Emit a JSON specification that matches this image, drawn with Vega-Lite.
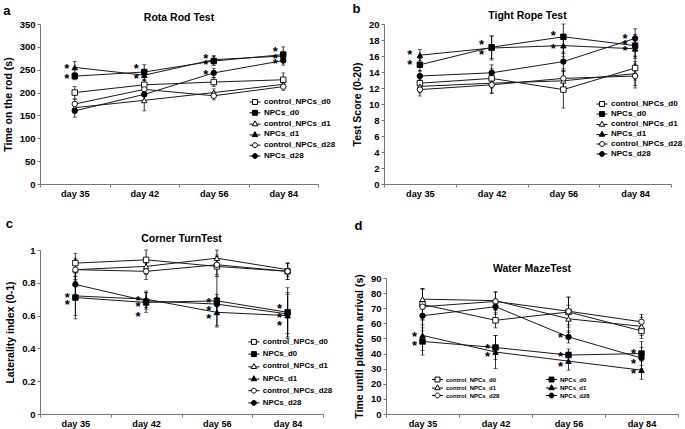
{
"$schema": "https://vega.github.io/schema/vega-lite/v6.json",
"padding": {"left": 3, "top": 2, "right": 2, "bottom": 2},
"datasets": {
"pts": [
{"p":"a","d":"day 35","s":"control_NPCs_d0","v":200,"lo":187,"hi":213},
{"p":"a","d":"day 35","s":"NPCs_d0","v":236,"lo":228,"hi":244},
{"p":"a","d":"day 35","s":"control_NPCs_d1","v":167,"lo":159,"hi":175},
{"p":"a","d":"day 35","s":"NPCs_d1","v":255,"lo":242,"hi":268},
{"p":"a","d":"day 35","s":"control_NPCs_d28","v":175,"lo":165,"hi":185},
{"p":"a","d":"day 35","s":"NPCs_d28","v":160,"lo":146,"hi":174},
{"p":"a","d":"day 42","s":"control_NPCs_d0","v":217,"lo":207,"hi":227},
{"p":"a","d":"day 42","s":"NPCs_d0","v":245,"lo":229,"hi":261},
{"p":"a","d":"day 42","s":"control_NPCs_d1","v":183,"lo":160,"hi":206},
{"p":"a","d":"day 42","s":"NPCs_d1","v":238,"lo":226,"hi":250},
{"p":"a","d":"day 42","s":"control_NPCs_d28","v":207,"lo":197,"hi":217},
{"p":"a","d":"day 42","s":"NPCs_d28","v":196,"lo":184,"hi":208},
{"p":"a","d":"day 56","s":"control_NPCs_d0","v":223,"lo":213,"hi":233},
{"p":"a","d":"day 56","s":"NPCs_d0","v":269,"lo":259,"hi":279},
{"p":"a","d":"day 56","s":"control_NPCs_d1","v":200,"lo":192,"hi":208},
{"p":"a","d":"day 56","s":"NPCs_d1","v":272,"lo":263,"hi":281},
{"p":"a","d":"day 56","s":"control_NPCs_d28","v":193,"lo":184,"hi":202},
{"p":"a","d":"day 56","s":"NPCs_d28","v":243,"lo":233,"hi":253},
{"p":"a","d":"day 84","s":"control_NPCs_d0","v":228,"lo":213,"hi":243},
{"p":"a","d":"day 84","s":"NPCs_d0","v":283,"lo":266,"hi":300},
{"p":"a","d":"day 84","s":"control_NPCs_d1","v":218,"lo":210,"hi":226},
{"p":"a","d":"day 84","s":"NPCs_d1","v":280,"lo":270,"hi":290},
{"p":"a","d":"day 84","s":"control_NPCs_d28","v":213,"lo":205,"hi":221},
{"p":"a","d":"day 84","s":"NPCs_d28","v":270,"lo":260,"hi":280},
{"p":"b","d":"day 35","s":"control_NPCs_d0","v":12.6,"lo":11.8,"hi":13.4},
{"p":"b","d":"day 35","s":"NPCs_d0","v":14.9,"lo":14.1,"hi":15.7},
{"p":"b","d":"day 35","s":"control_NPCs_d1","v":12.2,"lo":11.4,"hi":13.0},
{"p":"b","d":"day 35","s":"NPCs_d1","v":16.1,"lo":15.4,"hi":16.8},
{"p":"b","d":"day 35","s":"control_NPCs_d28","v":11.8,"lo":11.0,"hi":12.6},
{"p":"b","d":"day 35","s":"NPCs_d28","v":13.5,"lo":12.8,"hi":14.2},
{"p":"b","d":"day 42","s":"control_NPCs_d0","v":13.2,"lo":12.0,"hi":14.4},
{"p":"b","d":"day 42","s":"NPCs_d0","v":17.1,"lo":15.7,"hi":18.5},
{"p":"b","d":"day 42","s":"control_NPCs_d1","v":12.6,"lo":11.4,"hi":13.8},
{"p":"b","d":"day 42","s":"NPCs_d1","v":17.0,"lo":15.5,"hi":18.5},
{"p":"b","d":"day 42","s":"control_NPCs_d28","v":12.4,"lo":11.3,"hi":13.5},
{"p":"b","d":"day 42","s":"NPCs_d28","v":13.9,"lo":12.9,"hi":14.9},
{"p":"b","d":"day 56","s":"control_NPCs_d0","v":11.8,"lo":9.5,"hi":14.1},
{"p":"b","d":"day 56","s":"NPCs_d0","v":18.4,"lo":15.9,"hi":20},
{"p":"b","d":"day 56","s":"control_NPCs_d1","v":12.9,"lo":11.6,"hi":14.2},
{"p":"b","d":"day 56","s":"NPCs_d1","v":17.3,"lo":16.3,"hi":18.3},
{"p":"b","d":"day 56","s":"control_NPCs_d28","v":13.2,"lo":12.0,"hi":14.4},
{"p":"b","d":"day 56","s":"NPCs_d28","v":15.3,"lo":14.1,"hi":16.5},
{"p":"b","d":"day 84","s":"control_NPCs_d0","v":14.5,"lo":13.0,"hi":16.0},
{"p":"b","d":"day 84","s":"NPCs_d0","v":17.3,"lo":15.9,"hi":18.7},
{"p":"b","d":"day 84","s":"control_NPCs_d1","v":13.8,"lo":12.3,"hi":15.3},
{"p":"b","d":"day 84","s":"NPCs_d1","v":16.9,"lo":15.7,"hi":18.1},
{"p":"b","d":"day 84","s":"control_NPCs_d28","v":13.5,"lo":12.0,"hi":15.0},
{"p":"b","d":"day 84","s":"NPCs_d28","v":18.2,"lo":17.0,"hi":19.4},
{"p":"c","d":"day 35","s":"control_NPCs_d0","v":0.92,"lo":0.86,"hi":0.98},
{"p":"c","d":"day 35","s":"NPCs_d0","v":0.71,"lo":0.58,"hi":0.84},
{"p":"c","d":"day 35","s":"control_NPCs_d1","v":0.88,"lo":0.81,"hi":0.95},
{"p":"c","d":"day 35","s":"NPCs_d1","v":0.72,"lo":0.60,"hi":0.84},
{"p":"c","d":"day 35","s":"control_NPCs_d28","v":0.88,"lo":0.82,"hi":0.94},
{"p":"c","d":"day 35","s":"NPCs_d28","v":0.79,"lo":0.72,"hi":0.86},
{"p":"c","d":"day 42","s":"control_NPCs_d0","v":0.94,"lo":0.88,"hi":1.0},
{"p":"c","d":"day 42","s":"NPCs_d0","v":0.68,"lo":0.62,"hi":0.74},
{"p":"c","d":"day 42","s":"control_NPCs_d1","v":0.90,"lo":0.85,"hi":0.95},
{"p":"c","d":"day 42","s":"NPCs_d1","v":0.70,"lo":0.65,"hi":0.75},
{"p":"c","d":"day 42","s":"control_NPCs_d28","v":0.87,"lo":0.82,"hi":0.92},
{"p":"c","d":"day 42","s":"NPCs_d28","v":0.69,"lo":0.64,"hi":0.74},
{"p":"c","d":"day 56","s":"control_NPCs_d0","v":0.90,"lo":0.84,"hi":0.96},
{"p":"c","d":"day 56","s":"NPCs_d0","v":0.69,"lo":0.54,"hi":0.84},
{"p":"c","d":"day 56","s":"control_NPCs_d1","v":0.95,"lo":0.90,"hi":1.0},
{"p":"c","d":"day 56","s":"NPCs_d1","v":0.62,"lo":0.53,"hi":0.71},
{"p":"c","d":"day 56","s":"control_NPCs_d28","v":0.91,"lo":0.85,"hi":0.97},
{"p":"c","d":"day 56","s":"NPCs_d28","v":0.67,"lo":0.61,"hi":0.73},
{"p":"c","d":"day 84","s":"control_NPCs_d0","v":0.87,"lo":0.82,"hi":0.92},
{"p":"c","d":"day 84","s":"NPCs_d0","v":0.62,"lo":0.47,"hi":0.77},
{"p":"c","d":"day 84","s":"control_NPCs_d1","v":0.88,"lo":0.84,"hi":0.92},
{"p":"c","d":"day 84","s":"NPCs_d1","v":0.60,"lo":0.46,"hi":0.74},
{"p":"c","d":"day 84","s":"control_NPCs_d28","v":0.87,"lo":0.82,"hi":0.92},
{"p":"c","d":"day 84","s":"NPCs_d28","v":0.61,"lo":0.49,"hi":0.73},
{"p":"d","d":"day 35","s":"control_NPCs_d0","v":72.5,"lo":62.5,"hi":82.5},
{"p":"d","d":"day 35","s":"NPCs_d0","v":48,"lo":39,"hi":57},
{"p":"d","d":"day 35","s":"control_NPCs_d1","v":76,"lo":69,"hi":83},
{"p":"d","d":"day 35","s":"NPCs_d1","v":52,"lo":42,"hi":62},
{"p":"d","d":"day 35","s":"control_NPCs_d28","v":71,"lo":59,"hi":83},
{"p":"d","d":"day 35","s":"NPCs_d28","v":65,"lo":55,"hi":75},
{"p":"d","d":"day 42","s":"control_NPCs_d0","v":62,"lo":57,"hi":67},
{"p":"d","d":"day 42","s":"NPCs_d0","v":44,"lo":36,"hi":52},
{"p":"d","d":"day 42","s":"control_NPCs_d1","v":75,"lo":69,"hi":81},
{"p":"d","d":"day 42","s":"NPCs_d1","v":41,"lo":30,"hi":52},
{"p":"d","d":"day 42","s":"control_NPCs_d28","v":74.5,"lo":68.5,"hi":80.5},
{"p":"d","d":"day 42","s":"NPCs_d28","v":71,"lo":66,"hi":76},
{"p":"d","d":"day 56","s":"control_NPCs_d0","v":67.5,"lo":57.5,"hi":77.5},
{"p":"d","d":"day 56","s":"NPCs_d0","v":39,"lo":35,"hi":43},
{"p":"d","d":"day 56","s":"control_NPCs_d1","v":63,"lo":54,"hi":72},
{"p":"d","d":"day 56","s":"NPCs_d1","v":35,"lo":29,"hi":41},
{"p":"d","d":"day 56","s":"control_NPCs_d28","v":68,"lo":59,"hi":77},
{"p":"d","d":"day 56","s":"NPCs_d28","v":51,"lo":47,"hi":55},
{"p":"d","d":"day 84","s":"control_NPCs_d0","v":55,"lo":50,"hi":60},
{"p":"d","d":"day 84","s":"NPCs_d0","v":40,"lo":32,"hi":48},
{"p":"d","d":"day 84","s":"control_NPCs_d1","v":58,"lo":52,"hi":64},
{"p":"d","d":"day 84","s":"NPCs_d1","v":29,"lo":23,"hi":35},
{"p":"d","d":"day 84","s":"control_NPCs_d28","v":61,"lo":56,"hi":66},
{"p":"d","d":"day 84","s":"NPCs_d28","v":37,"lo":30,"hi":44}
],
"stars": [
{"p":"a","d":"day 35","y":258},{"p":"a","d":"day 35","y":236},
{"p":"a","d":"day 42","y":258},{"p":"a","d":"day 42","y":236},
{"p":"a","d":"day 56","y":280},{"p":"a","d":"day 56","y":267},{"p":"a","d":"day 56","y":245},
{"p":"a","d":"day 84","y":296},{"p":"a","d":"day 84","y":281},{"p":"a","d":"day 84","y":268},
{"p":"b","d":"day 35","y":16.5},{"p":"b","d":"day 35","y":15.2},
{"p":"b","d":"day 42","y":17.7},{"p":"b","d":"day 42","y":16.5},
{"p":"b","d":"day 56","y":18.9},{"p":"b","d":"day 56","y":17.2},
{"p":"b","d":"day 84","y":18.5},{"p":"b","d":"day 84","y":17.7},{"p":"b","d":"day 84","y":17.0},
{"p":"c","d":"day 35","y":0.724},{"p":"c","d":"day 35","y":0.684},
{"p":"c","d":"day 42","y":0.708},{"p":"c","d":"day 42","y":0.669},{"p":"c","d":"day 42","y":0.612},
{"p":"c","d":"day 56","y":0.694},{"p":"c","d":"day 56","y":0.649},{"p":"c","d":"day 56","y":0.598},
{"p":"c","d":"day 84","y":0.657},{"p":"c","d":"day 84","y":0.606},{"p":"c","d":"day 84","y":0.555},
{"p":"d","d":"day 35","y":53},{"p":"d","d":"day 35","y":47},
{"p":"d","d":"day 42","y":45.3},{"p":"d","d":"day 42","y":39.8},
{"p":"d","d":"day 56","y":52},{"p":"d","d":"day 56","y":39.8},{"p":"d","d":"day 56","y":33.2},
{"p":"d","d":"day 84","y":41.6},{"p":"d","d":"day 84","y":35},{"p":"d","d":"day 84","y":28.3}
]
},
"spacing": 18,
"resolve": {"scale": {"shape": "independent", "fill": "independent"}, "legend": {"shape": "independent", "fill": "independent"}},
"vconcat": [
{"spacing": 16,
 "resolve": {"scale": {"shape": "independent", "fill": "independent"}, "legend": {"shape": "independent", "fill": "independent"}},
 "hconcat": [
{"title": {"text": "a", "anchor": "start", "fontSize": 13, "offset": -5},
 "resolve": {"scale": {"shape": "independent", "fill": "independent"}, "legend": {"shape": "independent", "fill": "independent"}},
 "vconcat": [{
  "width": 278, "height": 160,
  "title": {"text": "Rota Rod Test", "frame": "group", "offset": -4},
  "encoding": {"x": {"field":"d","type":"nominal","sort":["day 35","day 42","day 56","day 84"],"scale":{"type":"band","paddingInner":0,"paddingOuter":0},"title":null,"axis":{"labelAngle":0,"tickBand":"extent","labelPadding":2}}},
  "resolve": {"scale": {"shape": "independent", "fill": "independent"}, "legend": {"shape": "independent", "fill": "independent"}},
  "layer": [
   {"data": {"name": "pts"}, "transform": [{"filter": "datum.p === 'a'"}],
    "resolve": {"scale": {"shape": "independent", "fill": "independent"}, "legend": {"shape": "independent", "fill": "independent"}},
    "layer": [
     {"mark": {"type": "rule", "color": "black", "strokeWidth": 0.8},
      "encoding": {"y": {"field":"lo","type":"quantitative","title":"Time on the rod (s)","scale":{"domain":[0,350]},"axis":{"values":[0,50,100,150,200,250,300,350],"titlePadding":6}}, "y2": {"field":"hi"}}},
     {"mark": {"type": "tick", "color": "black", "thickness": 0.8, "size": 4},
      "encoding": {"y": {"field":"lo","type":"quantitative","title":"Time on the rod (s)","scale":{"domain":[0,350]},"axis":{"values":[0,50,100,150,200,250,300,350],"titlePadding":6}}}},
     {"mark": {"type": "tick", "color": "black", "thickness": 0.8, "size": 4},
      "encoding": {"y": {"field":"hi","type":"quantitative","title":"Time on the rod (s)","scale":{"domain":[0,350]},"axis":{"values":[0,50,100,150,200,250,300,350],"titlePadding":6}}}},
     {"mark": {"type": "line", "color": "#1a1a1a", "strokeWidth": 1},
      "encoding": {"y": {"field":"v","type":"quantitative","title":"Time on the rod (s)","scale":{"domain":[0,350]},"axis":{"values":[0,50,100,150,200,250,300,350],"titlePadding":6}},
       "detail": {"field":"s"}}},
     {"mark": {"type": "point", "filled": true, "stroke": "black", "strokeWidth": 0.9, "size": 30, "opacity": 1},
      "encoding": {"y": {"field":"v","type":"quantitative","title":"Time on the rod (s)","scale":{"domain":[0,350]},"axis":{"values":[0,50,100,150,200,250,300,350],"titlePadding":6}},
       "shape": {"field":"s","type":"nominal","scale":{"domain":["control_NPCs_d0","NPCs_d0","control_NPCs_d1","NPCs_d1","control_NPCs_d28","NPCs_d28"],"range":["square","square","triangle-up","triangle-up","circle","circle"]},"legend":null},
       "fill": {"field":"s","type":"nominal","scale":{"domain":["control_NPCs_d0","NPCs_d0","control_NPCs_d1","NPCs_d1","control_NPCs_d28","NPCs_d28"],"range":["white","black","white","black","white","black"]},"legend":null}}},
     {"mark": {"type": "point", "filled": true, "stroke": "black", "strokeWidth": 1, "size": 30, "opacity": 0},
      "encoding": {"y": {"field":"v","type":"quantitative","title":"Time on the rod (s)","scale":{"domain":[0,350]},"axis":{"values":[0,50,100,150,200,250,300,350],"titlePadding":6}},
       "shape": {"field":"s","type":"nominal","scale":{"domain":["control_NPCs_d0","NPCs_d0","control_NPCs_d1","NPCs_d1","control_NPCs_d28","NPCs_d28"],"range":["M-2,0H-0.9M0.9,0H2M-0.9,-0.9H0.9V0.9H-0.9Z","M-2,0H-0.9M0.9,0H2M-0.9,-0.9H0.9V0.9H-0.9Z","M-2,0.2H-0.8M0.8,0.2H2M0,-1L1,0.8H-1Z","M-2,0.2H-0.8M0.8,0.2H2M0,-1L1,0.8H-1Z","M-2,0H-0.9M0.9,0H2M-0.9,0A0.9,0.9,0,1,1,0.9,0A0.9,0.9,0,1,1,-0.9,0Z","M-2,0H-0.9M0.9,0H2M-0.9,0A0.9,0.9,0,1,1,0.9,0A0.9,0.9,0,1,1,-0.9,0Z"]},
         "legend": {"orient":"none","legendX":211,"legendY":74,"title":null,"padding":0,"symbolSize":30,"symbolOpacity":1,"symbolStrokeWidth":1,"labelFontSize":8,"rowPadding":0.8,"labelOffset":5}},
       "fill": {"field":"s","type":"nominal","scale":{"domain":["control_NPCs_d0","NPCs_d0","control_NPCs_d1","NPCs_d1","control_NPCs_d28","NPCs_d28"],"range":["white","black","white","black","white","black"]},"legend":null}}}
    ]},
   {"data": {"name": "stars"}, "transform": [{"filter": "datum.p === 'a'"}],
    "mark": {"type": "text", "text": "*", "fontSize": 13, "fontWeight": "bold", "dx": -8, "dy": 3, "baseline": "middle", "align": "center"},
    "encoding": {"y": {"field":"y","type":"quantitative","title":"Time on the rod (s)","scale":{"domain":[0,350]},"axis":{"values":[0,50,100,150,200,250,300,350],"titlePadding":6}}}}
  ]
 }]
},
{"title": {"text": "b", "anchor": "start", "fontSize": 13, "offset": -5},
 "resolve": {"scale": {"shape": "independent", "fill": "independent"}, "legend": {"shape": "independent", "fill": "independent"}},
 "vconcat": [{
  "width": 287, "height": 160,
  "title": {"text": "Tight Rope Test", "frame": "group", "offset": -2},
  "encoding": {"x": {"field":"d","type":"nominal","sort":["day 35","day 42","day 56","day 84"],"scale":{"type":"band","paddingInner":0,"paddingOuter":0},"title":null,"axis":{"labelAngle":0,"tickBand":"extent","labelPadding":2}}},
  "resolve": {"scale": {"shape": "independent", "fill": "independent"}, "legend": {"shape": "independent", "fill": "independent"}},
  "layer": [
   {"data": {"name": "pts"}, "transform": [{"filter": "datum.p === 'b'"}],
    "resolve": {"scale": {"shape": "independent", "fill": "independent"}, "legend": {"shape": "independent", "fill": "independent"}},
    "layer": [
     {"mark": {"type": "rule", "color": "black", "strokeWidth": 0.8},
      "encoding": {"y": {"field":"lo","type":"quantitative","title":"Test Score (0-20)","scale":{"domain":[0,20]},"axis":{"values":[0,2,4,6,8,10,12,14,16,18,20],"titlePadding":6}}, "y2": {"field":"hi"}}},
     {"mark": {"type": "tick", "color": "black", "thickness": 0.8, "size": 4},
      "encoding": {"y": {"field":"lo","type":"quantitative","title":"Test Score (0-20)","scale":{"domain":[0,20]},"axis":{"values":[0,2,4,6,8,10,12,14,16,18,20],"titlePadding":6}}}},
     {"mark": {"type": "tick", "color": "black", "thickness": 0.8, "size": 4},
      "encoding": {"y": {"field":"hi","type":"quantitative","title":"Test Score (0-20)","scale":{"domain":[0,20]},"axis":{"values":[0,2,4,6,8,10,12,14,16,18,20],"titlePadding":6}}}},
     {"mark": {"type": "line", "color": "#1a1a1a", "strokeWidth": 1},
      "encoding": {"y": {"field":"v","type":"quantitative","title":"Test Score (0-20)","scale":{"domain":[0,20]},"axis":{"values":[0,2,4,6,8,10,12,14,16,18,20],"titlePadding":6}},
       "detail": {"field":"s"}}},
     {"mark": {"type": "point", "filled": true, "stroke": "black", "strokeWidth": 0.9, "size": 30, "opacity": 1},
      "encoding": {"y": {"field":"v","type":"quantitative","title":"Test Score (0-20)","scale":{"domain":[0,20]},"axis":{"values":[0,2,4,6,8,10,12,14,16,18,20],"titlePadding":6}},
       "shape": {"field":"s","type":"nominal","scale":{"domain":["control_NPCs_d0","NPCs_d0","control_NPCs_d1","NPCs_d1","control_NPCs_d28","NPCs_d28"],"range":["square","square","triangle-up","triangle-up","circle","circle"]},"legend":null},
       "fill": {"field":"s","type":"nominal","scale":{"domain":["control_NPCs_d0","NPCs_d0","control_NPCs_d1","NPCs_d1","control_NPCs_d28","NPCs_d28"],"range":["white","black","white","black","white","black"]},"legend":null}}},
     {"mark": {"type": "point", "filled": true, "stroke": "black", "strokeWidth": 1, "size": 30, "opacity": 0},
      "encoding": {"y": {"field":"v","type":"quantitative","title":"Test Score (0-20)","scale":{"domain":[0,20]},"axis":{"values":[0,2,4,6,8,10,12,14,16,18,20],"titlePadding":6}},
       "shape": {"field":"s","type":"nominal","scale":{"domain":["control_NPCs_d0","NPCs_d0","control_NPCs_d1","NPCs_d1","control_NPCs_d28","NPCs_d28"],"range":["M-2,0H-0.9M0.9,0H2M-0.9,-0.9H0.9V0.9H-0.9Z","M-2,0H-0.9M0.9,0H2M-0.9,-0.9H0.9V0.9H-0.9Z","M-2,0.2H-0.8M0.8,0.2H2M0,-1L1,0.8H-1Z","M-2,0.2H-0.8M0.8,0.2H2M0,-1L1,0.8H-1Z","M-2,0H-0.9M0.9,0H2M-0.9,0A0.9,0.9,0,1,1,0.9,0A0.9,0.9,0,1,1,-0.9,0Z","M-2,0H-0.9M0.9,0H2M-0.9,0A0.9,0.9,0,1,1,0.9,0A0.9,0.9,0,1,1,-0.9,0Z"]},
         "legend": {"orient":"none","legendX":214,"legendY":76,"title":null,"padding":0,"symbolSize":30,"symbolOpacity":1,"symbolStrokeWidth":1,"labelFontSize":8,"rowPadding":0,"labelOffset":5}},
       "fill": {"field":"s","type":"nominal","scale":{"domain":["control_NPCs_d0","NPCs_d0","control_NPCs_d1","NPCs_d1","control_NPCs_d28","NPCs_d28"],"range":["white","black","white","black","white","black"]},"legend":null}}}
    ]},
   {"data": {"name": "stars"}, "transform": [{"filter": "datum.p === 'b'"}],
    "mark": {"type": "text", "text": "*", "fontSize": 13, "fontWeight": "bold", "dx": -10, "dy": 3, "baseline": "middle", "align": "center"},
    "encoding": {"y": {"field":"y","type":"quantitative","title":"Test Score (0-20)","scale":{"domain":[0,20]},"axis":{"values":[0,2,4,6,8,10,12,14,16,18,20],"titlePadding":6}}}}
  ]
 }]
}
]},
{"spacing": 21,
 "resolve": {"scale": {"shape": "independent", "fill": "independent"}, "legend": {"shape": "independent", "fill": "independent"}},
 "hconcat": [
{"title": {"text": "c", "anchor": "start", "fontSize": 13, "offset": 3},
 "resolve": {"scale": {"shape": "independent", "fill": "independent"}, "legend": {"shape": "independent", "fill": "independent"}},
 "vconcat": [{
  "width": 283, "height": 164,
  "title": {"text": "Corner TurnTest", "frame": "group", "offset": 1},
  "encoding": {"x": {"field":"d","type":"nominal","sort":["day 35","day 42","day 56","day 84"],"scale":{"type":"band","paddingInner":0,"paddingOuter":0},"title":null,"axis":{"labelAngle":0,"tickBand":"extent","labelPadding":2}}},
  "resolve": {"scale": {"shape": "independent", "fill": "independent"}, "legend": {"shape": "independent", "fill": "independent"}},
  "layer": [
   {"data": {"name": "pts"}, "transform": [{"filter": "datum.p === 'c'"}],
    "resolve": {"scale": {"shape": "independent", "fill": "independent"}, "legend": {"shape": "independent", "fill": "independent"}},
    "layer": [
     {"mark": {"type": "rule", "color": "black", "strokeWidth": 0.8},
      "encoding": {"y": {"field":"lo","type":"quantitative","title":"Laterality index (0-1)","scale":{"domain":[0,1]},"axis":{"values":[0,0.2,0.4,0.6,0.8,1],"format":"~g","titlePadding":6}}, "y2": {"field":"hi"}}},
     {"mark": {"type": "tick", "color": "black", "thickness": 0.8, "size": 4},
      "encoding": {"y": {"field":"lo","type":"quantitative","title":"Laterality index (0-1)","scale":{"domain":[0,1]},"axis":{"values":[0,0.2,0.4,0.6,0.8,1],"format":"~g","titlePadding":6}}}},
     {"mark": {"type": "tick", "color": "black", "thickness": 0.8, "size": 4},
      "encoding": {"y": {"field":"hi","type":"quantitative","title":"Laterality index (0-1)","scale":{"domain":[0,1]},"axis":{"values":[0,0.2,0.4,0.6,0.8,1],"format":"~g","titlePadding":6}}}},
     {"mark": {"type": "line", "color": "#1a1a1a", "strokeWidth": 1},
      "encoding": {"y": {"field":"v","type":"quantitative","title":"Laterality index (0-1)","scale":{"domain":[0,1]},"axis":{"values":[0,0.2,0.4,0.6,0.8,1],"format":"~g","titlePadding":6}},
       "detail": {"field":"s"}}},
     {"mark": {"type": "point", "filled": true, "stroke": "black", "strokeWidth": 0.9, "size": 30, "opacity": 1},
      "encoding": {"y": {"field":"v","type":"quantitative","title":"Laterality index (0-1)","scale":{"domain":[0,1]},"axis":{"values":[0,0.2,0.4,0.6,0.8,1],"format":"~g","titlePadding":6}},
       "shape": {"field":"s","type":"nominal","scale":{"domain":["control_NPCs_d0","NPCs_d0","control_NPCs_d1","NPCs_d1","control_NPCs_d28","NPCs_d28"],"range":["square","square","triangle-up","triangle-up","circle","circle"]},"legend":null},
       "fill": {"field":"s","type":"nominal","scale":{"domain":["control_NPCs_d0","NPCs_d0","control_NPCs_d1","NPCs_d1","control_NPCs_d28","NPCs_d28"],"range":["white","black","white","black","white","black"]},"legend":null}}},
     {"mark": {"type": "point", "filled": true, "stroke": "black", "strokeWidth": 1, "size": 30, "opacity": 0},
      "encoding": {"y": {"field":"v","type":"quantitative","title":"Laterality index (0-1)","scale":{"domain":[0,1]},"axis":{"values":[0,0.2,0.4,0.6,0.8,1],"format":"~g","titlePadding":6}},
       "shape": {"field":"s","type":"nominal","scale":{"domain":["control_NPCs_d0","NPCs_d0","control_NPCs_d1","NPCs_d1","control_NPCs_d28","NPCs_d28"],"range":["M-2,0H-0.9M0.9,0H2M-0.9,-0.9H0.9V0.9H-0.9Z","M-2,0H-0.9M0.9,0H2M-0.9,-0.9H0.9V0.9H-0.9Z","M-2,0.2H-0.8M0.8,0.2H2M0,-1L1,0.8H-1Z","M-2,0.2H-0.8M0.8,0.2H2M0,-1L1,0.8H-1Z","M-2,0H-0.9M0.9,0H2M-0.9,0A0.9,0.9,0,1,1,0.9,0A0.9,0.9,0,1,1,-0.9,0Z","M-2,0H-0.9M0.9,0H2M-0.9,0A0.9,0.9,0,1,1,0.9,0A0.9,0.9,0,1,1,-0.9,0Z"]},
         "legend": {"orient":"none","legendX":210,"legendY":88,"title":null,"padding":0,"symbolSize":30,"symbolOpacity":1,"symbolStrokeWidth":1,"labelFontSize":7.8,"rowPadding":2.2,"labelOffset":5}},
       "fill": {"field":"s","type":"nominal","scale":{"domain":["control_NPCs_d0","NPCs_d0","control_NPCs_d1","NPCs_d1","control_NPCs_d28","NPCs_d28"],"range":["white","black","white","black","white","black"]},"legend":null}}}
    ]},
   {"data": {"name": "stars"}, "transform": [{"filter": "datum.p === 'c'"}],
    "mark": {"type": "text", "text": "*", "fontSize": 13, "fontWeight": "bold", "dx": -8, "dy": 3, "baseline": "middle", "align": "center"},
    "encoding": {"y": {"field":"y","type":"quantitative","title":"Laterality index (0-1)","scale":{"domain":[0,1]},"axis":{"values":[0,0.2,0.4,0.6,0.8,1],"format":"~g","titlePadding":6}}}}
  ]
 }]
},
{"title": {"text": "d", "anchor": "start", "fontSize": 13, "offset": 17},
 "spacing": 12,
 "resolve": {"scale": {"shape": "independent", "fill": "independent"}, "legend": {"shape": "independent", "fill": "independent"}},
 "vconcat": [
 {"width": 292, "height": 1, "data": {"values": [{"k": 1}]}, "mark": {"type": "point", "opacity": 0, "size": 0}},
 {
  "width": 292, "height": 136,
  "title": {"text": "Water MazeTest", "frame": "group", "offset": -1},
  "encoding": {"x": {"field":"d","type":"nominal","sort":["day 35","day 42","day 56","day 84"],"scale":{"type":"band","paddingInner":0,"paddingOuter":0},"title":null,"axis":{"labelAngle":0,"tickBand":"extent","labelPadding":2}}},
  "resolve": {"scale": {"shape": "independent", "fill": "independent"}, "legend": {"shape": "independent", "fill": "independent"}},
  "layer": [
   {"data": {"name": "pts"}, "transform": [{"filter": "datum.p === 'd'"}],
    "resolve": {"scale": {"shape": "independent", "fill": "independent"}, "legend": {"shape": "independent", "fill": "independent"}},
    "layer": [
     {"mark": {"type": "rule", "color": "black", "strokeWidth": 0.8},
      "encoding": {"y": {"field":"lo","type":"quantitative","title":"Time until platform arrival (s)","scale":{"domain":[0,90]},"axis":{"values":[0,10,20,30,40,50,60,70,80,90],"titlePadding":6}}, "y2": {"field":"hi"}}},
     {"mark": {"type": "tick", "color": "black", "thickness": 0.8, "size": 4},
      "encoding": {"y": {"field":"lo","type":"quantitative","title":"Time until platform arrival (s)","scale":{"domain":[0,90]},"axis":{"values":[0,10,20,30,40,50,60,70,80,90],"titlePadding":6}}}},
     {"mark": {"type": "tick", "color": "black", "thickness": 0.8, "size": 4},
      "encoding": {"y": {"field":"hi","type":"quantitative","title":"Time until platform arrival (s)","scale":{"domain":[0,90]},"axis":{"values":[0,10,20,30,40,50,60,70,80,90],"titlePadding":6}}}},
     {"mark": {"type": "line", "color": "#1a1a1a", "strokeWidth": 1},
      "encoding": {"y": {"field":"v","type":"quantitative","title":"Time until platform arrival (s)","scale":{"domain":[0,90]},"axis":{"values":[0,10,20,30,40,50,60,70,80,90],"titlePadding":6}},
       "detail": {"field":"s"}}},
     {"mark": {"type": "point", "filled": true, "stroke": "black", "strokeWidth": 0.9, "size": 30, "opacity": 1},
      "encoding": {"y": {"field":"v","type":"quantitative","title":"Time until platform arrival (s)","scale":{"domain":[0,90]},"axis":{"values":[0,10,20,30,40,50,60,70,80,90],"titlePadding":6}},
       "shape": {"field":"s","type":"nominal","scale":{"domain":["control_NPCs_d0","control_NPCs_d1","control_NPCs_d28","NPCs_d0","NPCs_d1","NPCs_d28"],"range":["square","triangle-up","circle","square","triangle-up","circle"]},"legend":null},
       "fill": {"field":"s","type":"nominal","scale":{"domain":["control_NPCs_d0","control_NPCs_d1","control_NPCs_d28","NPCs_d0","NPCs_d1","NPCs_d28"],"range":["white","white","white","black","black","black"]},"legend":null}}},
     {"mark": {"type": "point", "filled": true, "stroke": "black", "strokeWidth": 1, "size": 30, "opacity": 0},
      "encoding": {"y": {"field":"v","type":"quantitative","title":"Time until platform arrival (s)","scale":{"domain":[0,90]},"axis":{"values":[0,10,20,30,40,50,60,70,80,90],"titlePadding":6}},
       "shape": {"field":"s","type":"nominal","scale":{"domain":["control_NPCs_d0","control_NPCs_d1","control_NPCs_d28","NPCs_d0","NPCs_d1","NPCs_d28"],"range":["M-2,0H-0.9M0.9,0H2M-0.9,-0.9H0.9V0.9H-0.9Z","M-2,0.2H-0.8M0.8,0.2H2M0,-1L1,0.8H-1Z","M-2,0H-0.9M0.9,0H2M-0.9,0A0.9,0.9,0,1,1,0.9,0A0.9,0.9,0,1,1,-0.9,0Z","M-2,0H-0.9M0.9,0H2M-0.9,-0.9H0.9V0.9H-0.9Z","M-2,0.2H-0.8M0.8,0.2H2M0,-1L1,0.8H-1Z","M-2,0H-0.9M0.9,0H2M-0.9,0A0.9,0.9,0,1,1,0.9,0A0.9,0.9,0,1,1,-0.9,0Z"]},
         "legend": {"orient":"none","legendX":48,"legendY":98,"title":null,"padding":0,"columns":2,"columnPadding":44,"symbolSize":30,"symbolOpacity":1,"symbolStrokeWidth":1,"labelFontSize":6,"rowPadding":-7.6,"labelOffset":5}},
       "fill": {"field":"s","type":"nominal","scale":{"domain":["control_NPCs_d0","control_NPCs_d1","control_NPCs_d28","NPCs_d0","NPCs_d1","NPCs_d28"],"range":["white","white","white","black","black","black"]},"legend":null}}}
    ]},
   {"data": {"name": "stars"}, "transform": [{"filter": "datum.p === 'd'"}],
    "mark": {"type": "text", "text": "*", "fontSize": 13, "fontWeight": "bold", "dx": -8, "dy": 3, "baseline": "middle", "align": "center"},
    "encoding": {"y": {"field":"y","type":"quantitative","title":"Time until platform arrival (s)","scale":{"domain":[0,90]},"axis":{"values":[0,10,20,30,40,50,60,70,80,90],"titlePadding":6}}}}
  ]
 }]
}
]}
],
"config": {
 "font": "Liberation Sans",
 "view": {"stroke": null},
 "axis": {"grid": false, "domainColor": "#777", "tickColor": "#777", "labelColor": "black", "titleColor": "black", "labelFontWeight": "bold", "titleFontWeight": "bold", "labelFontSize": 9.5, "titleFontSize": 10.5, "tickSize": 3},
 "axisX": {"labelFontSize": 9.2},
 "title": {"fontWeight": "bold", "fontSize": 10.5, "color": "black"},
 "legend": {"labelFontWeight": "bold", "labelColor": "black"},
 "text": {"font": "Liberation Sans"}
}
}
